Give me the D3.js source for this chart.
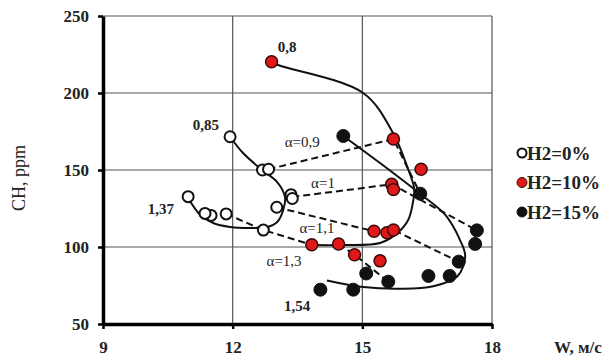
<!DOCTYPE html>
<html><head><meta charset="utf-8">
<script src="https://cdn.jsdelivr.net/npm/d3@7"></script>
<style>
html,body{margin:0;padding:0;background:#fff;}
svg{display:block;}
text{font-family:"Liberation Serif","Times New Roman",serif;}
</style></head>
<body>
<svg id="chart" width="606" height="356"></svg>
<script>
// ---- data (W, m/s ; CH, ppm) ----
const xTicks = [9, 12, 15, 18];
const yTicks = [50, 100, 150, 200, 250];
const seriesNames = ["H2=0%", "H2=10%", "H2=15%"];
const h2_0 = [[11.94,171.6],[12.69,150],[12.83,150.5],[13.35,134],[13.38,131.5],[13.02,125.8],[12.71,111],[11.85,121.5],[11.5,120.5],[11.36,121.8],[10.97,132.7]];
const h2_10 = [[12.9,220.3],[15.72,170.1],[16.36,150.5],[15.68,140.7],[15.72,137.3],[15.27,110.2],[15.57,109.2],[15.72,111],[13.83,101.4],[14.45,102],[14.82,95],[15.41,91]];
const h2_15 = [[14.56,172.1],[16.34,134.6],[17.65,110.8],[17.61,102],[17.23,90.5],[17.02,81.2],[16.53,81.2],[15.6,77.5],[15.09,82.8],[14.79,72.3],[14.03,72.3]];
// fitted trend curves
const trend_0 = [[11.94,171.6],[12.24,161],[12.68,150],[13.03,142.2],[13.21,132.5],[13.17,124],[13.03,116.2],[12.8,113],[12.4,112.3],[11.94,113],[11.55,115.6],[11.25,120.8],[10.97,131.8]];
const trend_10 = [[12.9,220.3],[13.05,218.2],[15.02,200],[15.71,174],[16.04,152],[16.2,138],[16.18,130.5],[16.06,117.5],[15.81,109],[15.41,102.6],[14.49,101.3],[13.83,101.3]];
const trend_15 = [[14.56,172.1],[15.41,154.5],[16.34,134.4],[16.92,120.8],[17.26,104.5],[17.38,94],[17.2,81],[16.64,74.5],[15.88,72.9],[15.02,74],[14.18,78.3]];
// constant-alpha dashed lines
const alpha09 = [[12.83,150.5],[15.72,170.1],[16.34,134.6]];
const alpha10 = [[13.38,132.5],[15.68,140.7],[17.65,110.8]];
const alpha11 = [[13.02,125.8],[15.27,110.2],[15.72,111],[17.23,90.5]];
const alpha13 = [[11.85,121.5],[12.71,111],[13.83,101.4]];
const alpha13b = [[14.45,102],[14.82,95],[15.6,77.5]];
const alphaLabels = [["α=0,9",13.61,168.2],["α=1",14.09,141.6],["α=1,1",13.95,112.3],["α=1,3",13.19,91]];
const pointLabels = [["0,8",13.26,229.9],["0,85",11.38,179.2],["1,37",10.34,124.7],["1,54",13.49,61.7]];

const svg = d3.select("#chart");
const x = d3.scaleLinear().domain([9,18]).range([103,492]);
const y = d3.scaleLinear().domain([50,250]).range([324,16]);

// grid
const g = svg.append("g");
g.selectAll(".hg").data(yTicks.filter(v=>v>50)).join("line")
  .attr("x1",x(9)).attr("x2",x(18)).attr("y1",d=>y(d)).attr("y2",d=>y(d))
  .attr("stroke","#555").attr("stroke-width",1.2);
g.selectAll(".vg").data(xTicks.filter(v=>v>9)).join("line")
  .attr("y1",y(50)).attr("y2",y(250)).attr("x1",d=>x(d)).attr("x2",d=>x(d))
  .attr("stroke","#555").attr("stroke-width",1.2);

// axes
const ax = svg.append("g").attr("transform",`translate(0,${y(50)})`)
  .call(d3.axisBottom(x).tickValues(xTicks).tickSizeInner(5).tickSizeOuter(0).tickFormat(d3.format("d")));
ax.select(".domain").attr("stroke","#000").attr("stroke-width",3.5);
ax.selectAll(".tick line").attr("stroke","#000").attr("stroke-width",2.5);
ax.selectAll(".tick text").attr("y",17).attr("dy","0.71em").attr("font-size",17).attr("font-weight","bold")
  .attr("font-family","Liberation Serif, serif").attr("fill","#222");
const ay = svg.append("g").attr("transform",`translate(${x(9)},0)`)
  .call(d3.axisLeft(y).tickValues(yTicks).tickSizeInner(5).tickSizeOuter(0).tickFormat(d3.format("d")));
ay.select(".domain").attr("stroke","#000").attr("stroke-width",3.5);
ay.selectAll(".tick line").attr("stroke","#000").attr("stroke-width",2.5);
ay.selectAll(".tick text").attr("x",-14).attr("font-size",17).attr("font-weight","bold")
  .attr("font-family","Liberation Serif, serif").attr("fill","#222");

// axis titles
svg.append("text").attr("transform","translate(25,178) rotate(-90)").attr("text-anchor","middle")
  .attr("font-size",18).attr("fill","#222").text("CH, ppm");
svg.append("text").attr("x",578).attr("y",353).attr("text-anchor","middle")
  .attr("font-size",17).attr("font-weight","bold").attr("fill","#222").text("W, м/с");

// trend curves
const line = d3.line().x(d=>x(d[0])).y(d=>y(d[1])).curve(d3.curveCatmullRom.alpha(0.5));
[trend_0,trend_10,trend_15].forEach(t=>{
  svg.append("path").attr("d",line(t)).attr("fill","none").attr("stroke","#111").attr("stroke-width",2);
});
const lin = d3.line().x(d=>x(d[0])).y(d=>y(d[1]));
[alpha09,alpha10,alpha11,alpha13,alpha13b].forEach(t=>{
  svg.append("path").attr("d",lin(t)).attr("fill","none").attr("stroke","#111")
    .attr("stroke-width",2).attr("stroke-dasharray","7,4");
});

// points
const styles = [
  {fill:"#fff",stroke:"#111",r:5.5,sw:2},
  {fill:"#e01818",stroke:"#3a0a0a",r:6,sw:1.5},
  {fill:"#111",stroke:"#111",r:6.5,sw:1}
];
[h2_0,h2_10,h2_15].forEach((s,i)=>{
  svg.append("g").selectAll("circle").data(s).join("circle")
    .attr("cx",d=>x(d[0])).attr("cy",d=>y(d[1])).attr("r",styles[i].r)
    .attr("fill",styles[i].fill).attr("stroke",styles[i].stroke).attr("stroke-width",styles[i].sw);
});

// labels
svg.append("g").selectAll("text").data(alphaLabels).join("text")
  .attr("x",d=>x(d[1])).attr("y",d=>y(d[2])).attr("text-anchor","middle").attr("dy","0.35em")
  .attr("font-size",15).attr("fill","#222").text(d=>d[0]);
svg.append("g").selectAll("text").data(pointLabels).join("text")
  .attr("x",d=>x(d[1])).attr("y",d=>y(d[2])).attr("text-anchor","middle").attr("dy","0.35em")
  .attr("font-size",15).attr("font-weight","bold").attr("fill","#222").text(d=>d[0]);

// legend
const leg = svg.append("g");
seriesNames.forEach((n,i)=>{
  const yy = 153 + i*29.5;
  leg.append("circle").attr("cx",522).attr("cy",yy).attr("r",i==0?4.5:5)
    .attr("fill",styles[i].fill).attr("stroke",styles[i].stroke).attr("stroke-width",i==0?2:1);
  leg.append("text").attr("x",527).attr("y",yy).attr("dy","0.35em").attr("font-size",19)
    .attr("font-weight","bold").attr("fill","#222").text(n);
});
</script>
</body></html>
